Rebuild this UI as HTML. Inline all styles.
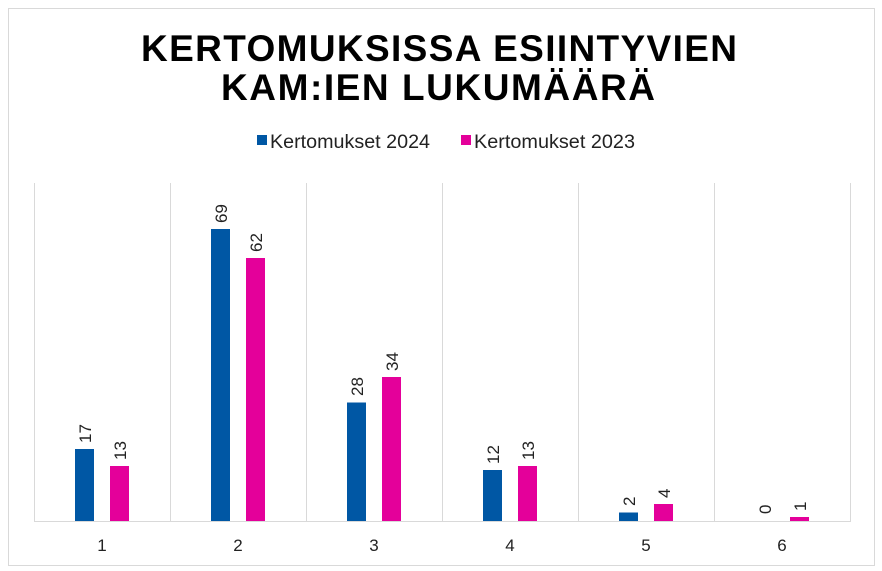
<!DOCTYPE html>
<html><head><meta charset="utf-8"><style>
html,body{margin:0;padding:0;background:#fff;}
svg{display:block;font-family:"Liberation Sans",Arial,sans-serif;}
</style></head><body>
<svg width="882" height="571" viewBox="0 0 882 571" xmlns="http://www.w3.org/2000/svg">
<rect x="8.5" y="8.5" width="866" height="557" fill="#fff" stroke="#d9d9d9" stroke-width="1"/>
<text x="439" y="61" font-size="37" font-weight="bold" text-anchor="middle" textLength="596" lengthAdjust="spacing">KERTOMUKSISSA ESIINTYVIEN</text>
<text x="438" y="100" font-size="37" font-weight="bold" text-anchor="middle" textLength="434" lengthAdjust="spacing">KAM:IEN LUKUMÄÄRÄ</text>
<rect x="257" y="135" width="10" height="10" fill="#0057a4"/>
<text x="270" y="148" font-size="19" fill="#222" textLength="160" lengthAdjust="spacingAndGlyphs">Kertomukset 2024</text>
<rect x="461" y="135" width="10" height="10" fill="#e4009a"/>
<text x="474" y="148" font-size="19" fill="#222" textLength="161" lengthAdjust="spacingAndGlyphs">Kertomukset 2023</text>
<g stroke="#d9d9d9" stroke-width="1">
<line x1="34.5" y1="183" x2="34.5" y2="521"/>
<line x1="170.5" y1="183" x2="170.5" y2="521"/>
<line x1="306.5" y1="183" x2="306.5" y2="521"/>
<line x1="442.5" y1="183" x2="442.5" y2="521"/>
<line x1="578.5" y1="183" x2="578.5" y2="521"/>
<line x1="714.5" y1="183" x2="714.5" y2="521"/>
<line x1="850.5" y1="183" x2="850.5" y2="521"/>
<line x1="34" y1="521.5" x2="851" y2="521.5"/>
</g>
<g fill="#0057a4">
<rect x="75" y="449" width="19" height="72"/>
<rect x="211" y="229" width="19" height="292"/>
<rect x="347" y="402.5" width="19" height="118.5"/>
<rect x="483" y="470" width="19" height="51"/>
<rect x="619" y="512.5" width="19" height="8.5"/>
</g>
<g fill="#e4009a">
<rect x="110" y="466" width="19" height="55"/>
<rect x="246" y="258" width="19" height="263"/>
<rect x="382" y="377" width="19" height="144"/>
<rect x="518" y="466" width="19" height="55"/>
<rect x="654" y="504" width="19" height="17"/>
<rect x="790" y="517" width="19" height="4"/>
</g>
<g font-size="17" fill="#222">
<text transform="translate(91,443) rotate(-90)">17</text>
<text transform="translate(126,460) rotate(-90)">13</text>
<text transform="translate(227,223) rotate(-90)">69</text>
<text transform="translate(262,252) rotate(-90)">62</text>
<text transform="translate(363,396) rotate(-90)">28</text>
<text transform="translate(398,371) rotate(-90)">34</text>
<text transform="translate(499,464) rotate(-90)">12</text>
<text transform="translate(534,460) rotate(-90)">13</text>
<text transform="translate(635,506) rotate(-90)">2</text>
<text transform="translate(670,498) rotate(-90)">4</text>
<text transform="translate(771,514) rotate(-90)">0</text>
<text transform="translate(806,511) rotate(-90)">1</text>
</g>
<g font-size="17" fill="#222" text-anchor="middle">
<text x="102" y="551">1</text>
<text x="238" y="551">2</text>
<text x="374" y="551">3</text>
<text x="510" y="551">4</text>
<text x="646" y="551">5</text>
<text x="782" y="551">6</text>
</g>
</svg>
</body></html>
